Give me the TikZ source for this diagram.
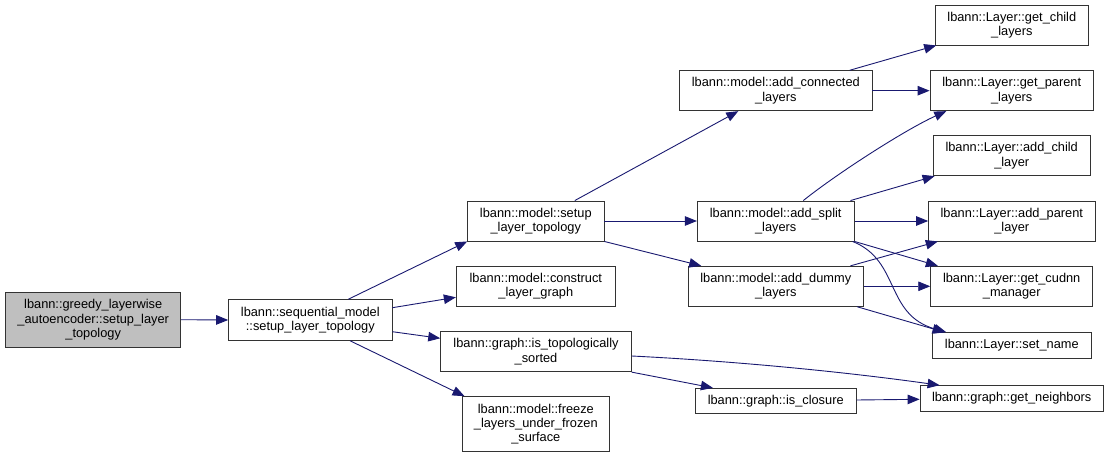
\documentclass[tikz,border=0pt]{standalone}
\usepackage{fontspec}
\setmainfont{Liberation Sans}
\usetikzlibrary{arrows.meta}
\definecolor{edgecol}{HTML}{191970}
\definecolor{boxcol}{HTML}{333333}
\definecolor{rootfill}{HTML}{BFBFBF}
\begin{document}
\begin{tikzpicture}[x=1pt,y=-1pt,
  box/.style={draw=boxcol, line width=0.9pt, fill=white, inner sep=0pt, align=center,
    font=\fontsize{12.8}{14.3}\selectfont},
  root/.style={box, fill=rootfill},
  edge/.style={draw=edgecol, line width=0.9pt, -{Triangle[length=12pt,width=9.5pt]}}]
\useasboundingbox (0,0) rectangle (1109,457);
% nodes
\node[root, minimum width=175pt, minimum height=54.7pt] (greedy) at (93.2,319.7) {lbann::greedy\_layerwise\\\_autoencoder::setup\_layer\\\_topology};
\node[box, minimum width=163.3pt, minimum height=40.6pt] (seq) at (310.3,320) {lbann::sequential\_model\\::setup\_layer\_topology};
\node[box, minimum width=136.3pt, minimum height=40pt] (setup) at (535.8,221) {lbann::model::setup\\\_layer\_topology};
\node[box, minimum width=159pt, minimum height=40pt] (construct) at (535.8,286.3) {lbann::model::construct\\\_layer\_graph};
\node[box, minimum width=190.6pt, minimum height=40pt] (istopo) at (536,351.7) {lbann::graph::is\_topologically\\\_sorted};
\node[box, minimum width=147pt, minimum height=54.7pt] (freeze) at (535.8,424) {lbann::model::freeze\\\_layers\_under\_frozen\\\_surface};
\node[box, minimum width=192.3pt, minimum height=40pt] (addconn) at (775.8,90.7) {lbann::model::add\_connected\\\_layers};
\node[box, minimum width=156.7pt, minimum height=40pt] (addsplit) at (775.7,221) {lbann::model::add\_split\\\_layers};
\node[box, minimum width=175pt, minimum height=40pt] (adddummy) at (775.8,286.3) {lbann::model::add\_dummy\\\_layers};
\node[box, minimum width=160.7pt, minimum height=25.4pt] (isclosure) at (775.7,401) {lbann::graph::is\_closure};
\node[box, minimum width=153.7pt, minimum height=40pt] (getchild) at (1011.8,25) {lbann::Layer::get\_child\\\_layers};
\node[box, minimum width=163.3pt, minimum height=40pt] (getparent) at (1011.7,90.7) {lbann::Layer::get\_parent\\\_layers};
\node[box, minimum width=156.7pt, minimum height=39.7pt] (addchild) at (1011.7,155.8) {lbann::Layer::add\_child\\\_layer};
\node[box, minimum width=166.3pt, minimum height=40pt] (addparent) at (1011.8,221) {lbann::Layer::add\_parent\\\_layer};
\node[box, minimum width=162pt, minimum height=40pt] (getcudnn) at (1011.7,286.3) {lbann::Layer::get\_cudnn\\\_manager};
\node[box, minimum width=159pt, minimum height=25.3pt] (setname) at (1011.8,345.3) {lbann::Layer::set\_name};
\node[box, minimum width=183.3pt, minimum height=25.3pt] (getneighbors) at (1011.7,398.3) {lbann::graph::get\_neighbors};
% edges
\draw[edge] (greedy.east) -- (seq.west);
\draw[edge] ([xshift=38pt]seq.north) -- (setup.south west);
\draw[edge] ([yshift=12.3pt]seq.east) -- ([yshift=-11pt]construct.west);
\draw[edge] ([yshift=-11.7pt]seq.east) -- ([yshift=13.4pt]istopo.west);
\draw[edge] ([xshift=39.7pt]seq.south) -- ([xshift=2.7pt]freeze.north west);
\draw[edge] ([xshift=39pt]setup.north) -- ([xshift=-37.5pt]addconn.south);
\draw[edge] (setup.east) -- (addsplit.west);
\draw[edge] (setup.south east) -- ([xshift=13.4pt]adddummy.north west);
\draw[edge] ([xshift=74pt]addconn.north) -- ([xshift=1.7pt]getchild.south west);
\draw[edge] (addconn.east) -- (getparent.west);
\draw[edge] ([xshift=27.6pt]addsplit.north) .. controls +(35,-28) and +(-40,18) .. ([xshift=16.7pt]getparent.south west);
\draw[edge] ([xshift=-4pt]addsplit.north east) -- ([xshift=1.7pt]addchild.south west);
\draw[edge] (addsplit.east) -- (addparent.west);
\draw[edge] (addsplit.south east) -- ([xshift=7.6pt]getcudnn.north west);
\draw[edge] ([xshift=-2pt]addsplit.south east) .. controls +(48,19) and +(-61.7,-17.7) .. ([xshift=14.4pt]setname.north west);
\draw[edge] ([xshift=-13.3pt]adddummy.north east) -- ([xshift=9.6pt]addparent.south west);
\draw[edge] (adddummy.east) -- (getcudnn.west);
\draw[edge] ([xshift=-6.6pt]adddummy.south east) -- ([xshift=12.7pt]setname.north west);
\draw[edge] ([yshift=-4.3pt]istopo.east) .. controls +(100,5) and +(-100,-14) .. ([xshift=20pt]getneighbors.north west);
\draw[edge] (istopo.south east) -- ([xshift=18pt]isclosure.north west);
\draw[edge] ([yshift=1pt]isclosure.east) -- ([yshift=-1pt]getneighbors.west);
\end{tikzpicture}
\end{document}
